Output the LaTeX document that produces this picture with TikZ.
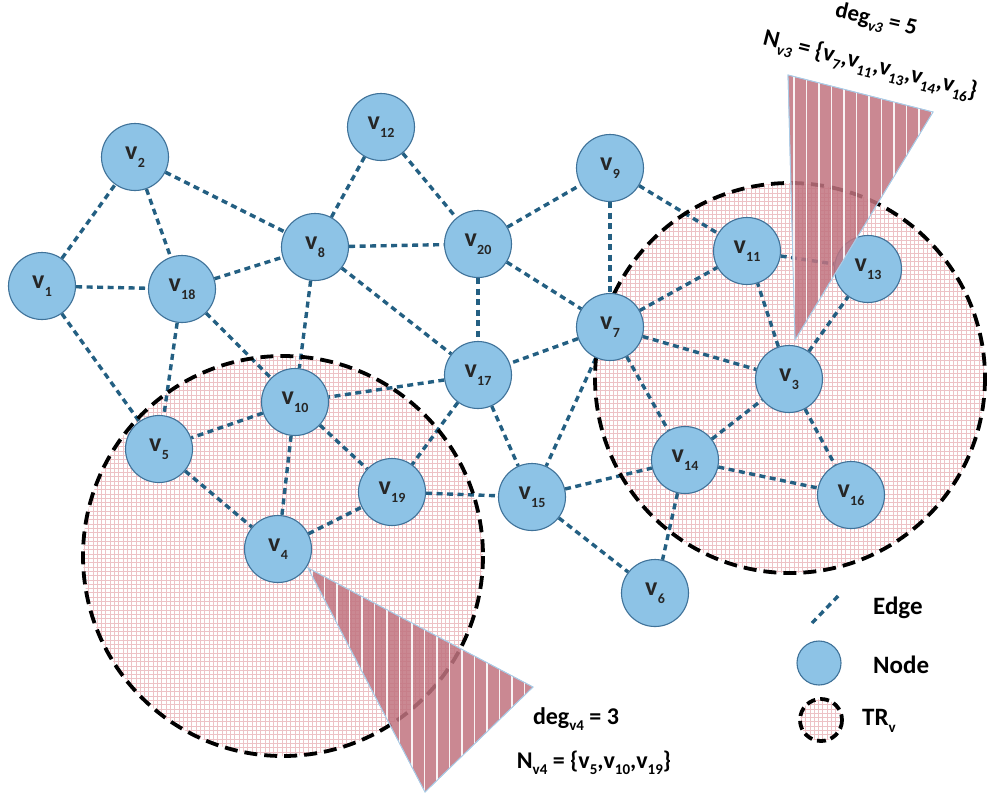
\documentclass[tikz,border=0pt]{standalone}
\usepackage{fontspec}
\setmainfont{Carlito}
\definecolor{nodefill}{HTML}{8DC3E6}
\definecolor{nodeborder}{HTML}{3F7299}
\definecolor{edgecol}{HTML}{235F82}
\definecolor{gridpink}{HTML}{EDC2C6}
\definecolor{trifill}{HTML}{C17480}
\definecolor{triedge}{HTML}{A9CBE6}
\pgfdeclarelayer{gridlayer}
\pgfdeclarelayer{edgelayer}
\pgfdeclarelayer{front}
\pgfsetlayers{gridlayer,edgelayer,main,front}
\newcommand\vlab[1]{v\kern0.3pt\raisebox{-0.3em}{\fontsize{14}{14}\selectfont #1}}
\newcommand\vsub[2]{\raisebox{-0.25em}{\fontsize{#1}{#1}\selectfont #2}}
\newcommand\gridfill[4]{% x0, y0, size, n
  \foreach \i in {0,...,#4} {
    \draw[gridpink, line width=0.8pt] ({#1+\i*4.3},#2) -- ++(0,#3);
    \draw[gridpink, line width=0.8pt] (#1,{#2+\i*4.3}) -- ++(#3,0);
  }}
\tikzset{
  vnode/.style={circle, draw=nodeborder, line width=1.1pt, fill=nodefill, minimum size=67pt, inner sep=0pt,
    font=\fontsize{26}{26}\selectfont\bfseries, text=black!85},
  edgeline/.style={draw=edgecol, line width=3.4pt, dash pattern=on 6pt off 4.5pt},
  trcircle/.style={draw=black, line width=3.8pt, dash pattern=on 13pt off 7pt},
  tri/.style={fill=trifill, fill opacity=0.85, draw=triedge, line width=0.8pt},
  stripe/.style={draw=white, line width=1.6pt, opacity=0.9},
  lbl/.style={text=black, inner sep=0pt},
  leglbl/.style={font=\fontsize{25}{25}\selectfont\bfseries, text=black, anchor=west, inner sep=0pt}
}
\begin{document}
\begin{tikzpicture}[x=1pt,y=-1pt]
\useasboundingbox (0,0) rectangle (987,796);
\begin{pgfonlayer}{gridlayer}
\fill[white] (0,0) rectangle (987,796);
\end{pgfonlayer}
% nodes
\node[vnode] (v1) at (42,286) {\vlab{1}};
\node[vnode] (v2) at (135,157) {\vlab{2}};
\node[vnode] (v12) at (381,127) {\vlab{12}};
\node[vnode] (v8) at (315,247) {\vlab{8}};
\node[vnode] (v18) at (182,289) {\vlab{18}};
\node[vnode] (v9) at (610,168) {\vlab{9}};
\node[vnode] (v20) at (478,244) {\vlab{20}};
\node[vnode] (v11) at (747,251) {\vlab{11}};
\node[vnode] (v13) at (868,269) {\vlab{13}};
\node[vnode] (v7) at (610,327) {\vlab{7}};
\node[vnode] (v17) at (478,375) {\vlab{17}};
\node[vnode] (v10) at (295,402) {\vlab{10}};
\node[vnode] (v5) at (159,449) {\vlab{5}};
\node[vnode] (v3) at (789,379) {\vlab{3}};
\node[vnode] (v14) at (685,460) {\vlab{14}};
\node[vnode] (v16) at (851,495) {\vlab{16}};
\node[vnode] (v19) at (392,492) {\vlab{19}};
\node[vnode] (v15) at (532,497) {\vlab{15}};
\node[vnode] (v4) at (278,549) {\vlab{4}};
\node[vnode] (v6) at (655,593) {\vlab{6}};
% transmission ranges (grid fill)
\coordinate (cL) at (283,556);
\coordinate (cR) at (790,378);
\begin{pgfonlayer}{gridlayer}
\begin{scope}
  \clip (cL) circle (200);
  \gridfill{80}{352}{410}{96}
\end{scope}
\begin{scope}
  \clip (cR) circle (195);
  \gridfill{592}{180}{400}{94}
\end{scope}
\end{pgfonlayer}
% edges and range outlines
\begin{pgfonlayer}{edgelayer}
\foreach \a/\b in {v1/v2, v1/v18, v1/v5, v2/v18, v2/v8, v18/v8, v18/v5, v18/v10,
  v12/v8, v12/v20, v8/v20, v8/v10, v8/v17, v20/v9, v20/v17, v20/v7, v9/v7, v9/v11,
  v11/v13, v7/v17, v7/v11, v7/v3, v7/v14, v7/v15, v17/v10, v17/v19, v17/v15,
  v10/v5, v10/v19, v10/v4, v5/v4, v4/v19, v19/v15, v15/v14, v15/v6,
  v14/v3, v14/v16, v14/v6, v3/v11, v3/v13, v3/v16}
  \draw[edgeline] (\a) -- (\b);
\draw[trcircle] (cL) circle (200);
\draw[trcircle] (cR) circle (195);
\end{pgfonlayer}
% degree triangles
\coordinate (tRa) at (795,340);
\coordinate (tRb) at (788,75);
\coordinate (tRc) at (933,112);
\coordinate (tLa) at (308,568);
\coordinate (tLb) at (533,687);
\coordinate (tLc) at (425,792);
\begin{pgfonlayer}{front}
\fill[tri] (tRa) -- (tRb) -- (tRc) -- cycle;
\begin{scope}
  \clip (tRa) -- (tRb) -- (tRc) -- cycle;
  \foreach \x in {794,806.5,...,935} \draw[stripe] (\x,60) -- (\x,345);
\end{scope}
\draw[triedge, line width=0.8pt] (tRa) -- (tRb) -- (tRc) -- cycle;
\fill[tri] (tLa) -- (tLb) -- (tLc) -- cycle;
\begin{scope}
  \clip (tLa) -- (tLb) -- (tLc) -- cycle;
  \foreach \x in {312,324.5,...,535} \draw[stripe] (\x,560) -- (\x,796);
\end{scope}
\draw[triedge, line width=0.8pt] (tLa) -- (tLb) -- (tLc) -- cycle;
\end{pgfonlayer}
% labels
\node[lbl, rotate=-13, font=\fontsize{23}{23}\selectfont\bfseries] (degv3) at (876,21) {deg\vsub{15}{\itshape v3} = 5};
\node[lbl, rotate=-14, font=\fontsize{24}{24}\selectfont\bfseries] (nv3) at (870,66) {N\vsub{15}{\itshape v3} = \{v\vsub{15}{7},v\vsub{15}{11},v\vsub{15}{13},v\vsub{15}{14},v\vsub{15}{16}\}};
\node[lbl, font=\fontsize{24}{24}\selectfont\bfseries] (degv4) at (576,719) {deg\vsub{15}{v4} = 3};
\node[lbl, font=\fontsize{24}{24}\selectfont\bfseries] (nv4) at (594,763) {N\vsub{15}{v4} = \{v\vsub{15}{5},v\vsub{15}{10},v\vsub{15}{19}\}};
% legend
\coordinate (le1) at (812,623);
\coordinate (le2) at (840,594);
\draw[edgeline] (le1) -- (le2);
\node[leglbl] (ledge) at (873,608) {Edge};
\node[vnode, minimum size=44pt] (lnode) at (819,663) {};
\node[leglbl] (lnodet) at (873,665) {Node};
\coordinate (ltr) at (821,720);
\begin{scope}
  \clip (ltr) circle (21);
  \gridfill{797}{696}{48}{12}
\end{scope}
\draw[trcircle, dash pattern=on 9pt off 5pt] (ltr) circle (21);
\node[leglbl] (ltrt) at (862,721) {TR\vsub{15}{v}};
\end{tikzpicture}
\end{document}
